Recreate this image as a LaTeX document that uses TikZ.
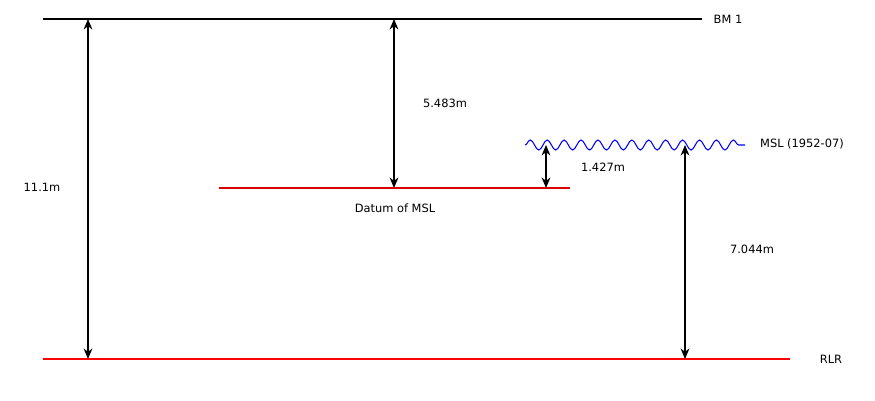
\documentclass[tikz,border=0pt]{standalone}
\usepackage{fontspec}
\setmainfont{DejaVu Sans}
\usetikzlibrary{arrows.meta, decorations.pathmorphing}

\begin{document}
\begin{tikzpicture}[
    x = 0.02cm, y = -0.02cm,
    level/.style = {line width = 1.4pt},
    datum/.style = {line width = 0.8pt, red!85!black},
    wave/.style  = {line width = 0.6pt, blue,
      decorate, decoration = {snake, segment length = 0.3385cm, amplitude = 0.1cm}},
    dim/.style   = {{Stealth[length=6pt, width=5pt]}-{Stealth[length=6pt, width=5pt]},
      line width = 0.6pt, black},
    lbl/.style   = {font = \fontsize{6.5}{8}\selectfont, inner sep = 1pt}
  ]
    \useasboundingbox (0,0) rectangle (875,400);

    % ── Levels ───────────────────────────────────────────────────────────────
    \coordinate (bm-w)  at (43,19);   \coordinate (bm-e)  at (702,19);
    \coordinate (rlr-w) at (43,359);  \coordinate (rlr-e) at (790,359);
    \coordinate (dat-w) at (219,188); \coordinate (dat-e) at (570,188);
    \coordinate (msl-w) at (525,145); \coordinate (msl-e) at (745,145);

    \draw[level, black] (bm-w)  -- (bm-e);
    \draw[level, red]   (rlr-w) -- (rlr-e);
    \draw[datum]        (dat-w) -- (dat-e);
    \draw[wave]         (msl-w) -- (msl-e);

    \node[lbl] (bm)    at (728,19)  {BM 1};
    \node[lbl] (rlr)   at (831,359) {RLR};
    \node[lbl] (datum) at (395,208) {Datum of MSL};
    \node[lbl] (msl)   at (802,144) {MSL (1952-07)};

    % ── Dimensions ───────────────────────────────────────────────────────────
    \coordinate (d1-top) at (88,19);   \coordinate (d1-bot) at (88,359);
    \coordinate (d2-top) at (394,19);  \coordinate (d2-bot) at (394,188);
    \coordinate (d3-top) at (546,145); \coordinate (d3-bot) at (546,188);
    \coordinate (d4-top) at (685,145); \coordinate (d4-bot) at (685,359);

    \draw[dim] (d1-top) -- (d1-bot);
    \draw[dim] (d2-top) -- (d2-bot);
    \draw[dim] (d3-top) -- (d3-bot);
    \draw[dim] (d4-top) -- (d4-bot);

    \node[lbl] (h-total) at (42,187)  {11.1m};
    \node[lbl] (h-bm)    at (445,103) {5.483m};
    \node[lbl] (h-msl)   at (603,167) {1.427m};
    \node[lbl] (h-rlr)   at (752,249) {7.044m};
  \end{tikzpicture}
\end{document}
